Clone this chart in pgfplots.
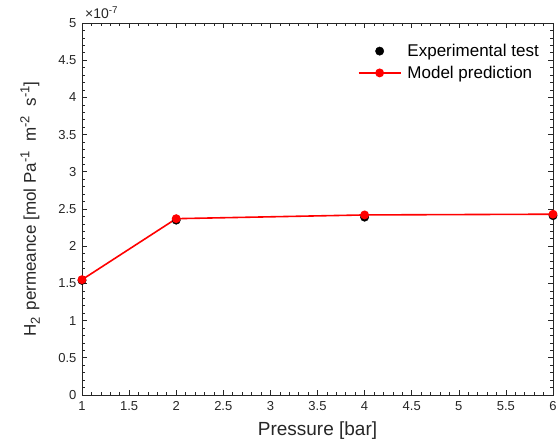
\documentclass[border=0pt]{standalone}
\usepackage{pgfplots}
\pgfplotsset{compat=1.18}
\usepackage{fontspec}
\setmainfont{Liberation Sans}
\definecolor{axgray}{rgb}{0.15,0.15,0.15}
\definecolor{mred}{rgb}{1,0,0}
% MATLAB-like super/subscripts
\newcommand{\sps}[1]{\raisebox{6.5pt}{\fontsize{13}{13}\selectfont #1}}
\newcommand{\sbs}[1]{\raisebox{-4pt}{\fontsize{13}{13}\selectfont #1}}

\begin{document}
\begin{tikzpicture}
\begin{axis}[
    scale only axis,
    width=471pt, height=372pt,
    xmin=1, xmax=6, ymin=0, ymax=5e-7,
    xtick={1,1.5,2,2.5,3,3.5,4,4.5,5,5.5,6},
    ytick={0,0.5e-7,1e-7,1.5e-7,2e-7,2.5e-7,3e-7,3.5e-7,4e-7,4.5e-7,5e-7},
    minor tick num=4,
    tick align=inside,
    tick pos=both,
    major tick length=5pt,
    minor tick length=3pt,
    scaled y ticks=base 10:7,
    ytick scale label code/.code={×10\textsuperscript{#1}},
    every y tick scale label/.style={at={(rel axis cs:0,1)}, anchor=south west, inner sep=0pt,
        xshift=5pt, yshift=4pt, font=\fontsize{14}{16}\selectfont, text=axgray},
    /pgf/number format/assume math mode=true,
    axis line style={axgray, line width=0.8pt},
    every tick/.style={axgray, line width=0.6pt},
    tick label style={font=\fontsize{13}{15}\selectfont, text=axgray},
    xticklabel style={yshift=-3pt},
    yticklabel style={xshift=-2pt},
    xlabel={Pressure [bar]},
    xlabel style={font=\fontsize{19}{22}\selectfont, text=axgray, yshift=-4pt},
    ylabel={H\sbs{2}\hspace{7pt}permeance [mol Pa\sps{-1}\hspace{5pt} m\sps{-2}\hspace{5pt} s\sps{-1}]},
    every axis y label/.style={at={([xshift=-42pt]axis description cs:0,0.5)}, rotate=90, anchor=south,
        inner sep=0pt, font=\fontsize{17}{20}\selectfont, text=axgray},
    legend style={at={(rel axis cs:1,1)}, anchor=north east, xshift=-10pt, yshift=-17pt,
        draw=none, fill=white, font=\fontsize{17}{20}\selectfont, text=black,
        row sep=4pt, inner sep=2pt},
    legend cell align=left,
    legend image code/.code={\draw[mark repeat=2,mark phase=2,#1] plot coordinates {(0pt,0pt) (21pt,0pt) (42pt,0pt)}; \path (46pt,0pt);},
]
\addplot[only marks, mark=*, mark size=4.2pt, black] coordinates {
    (1, 1.54e-7) (2, 2.35e-7) (4, 2.39e-7) (6, 2.41e-7)
};
\addlegendentry{Experimental test}
\addplot[mred, line width=1.6pt, mark=*, mark size=3.6pt, mark options={fill=mred, draw=mred}] coordinates {
    (1, 1.55e-7) (2, 2.37e-7) (4, 2.42e-7) (6, 2.43e-7)
};
\addlegendentry{Model prediction}
\end{axis}
\pgfresetboundingbox
\path[use as bounding box] ([shift={(-82pt,-52pt)}]current axis.south west) rectangle ([shift={(5pt,23pt)}]current axis.north east);
\end{tikzpicture}
\end{document}
